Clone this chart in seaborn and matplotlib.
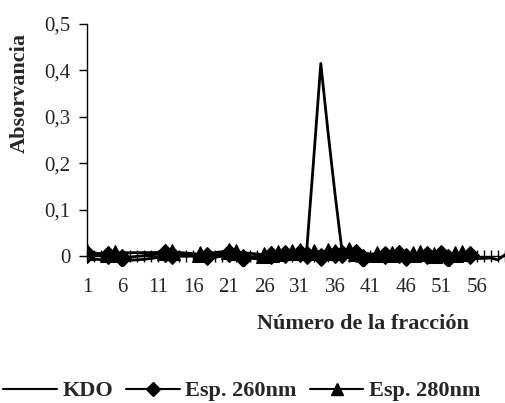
import numpy as np
import pandas as pd
import matplotlib
matplotlib.use("Agg")
import matplotlib.pyplot as plt
import seaborn as sns
from matplotlib.lines import Line2D

# ---------------------------------------------
# DATA
# ---------------------------------------------
fracciones = list(range(1, 61))
kdo = [0.0, -0.006, -0.008, -0.008, -0.009, -0.009, -0.009, -0.008, -0.007, -0.005,
       -0.003, -0.002, -0.001, 0.0, 0.0, 0.0, -0.002, -0.004, -0.003, 0.0,
       0.002, 0.003, 0.002, -0.004, -0.006, -0.003, 0.0, 0.001, 0.0, -0.002,
       0.002, 0.01, 0.21, 0.415, 0.27, 0.135, 0.01, -0.004, -0.003, 0.0,
       0.002, -0.005, -0.006, -0.002, 0.0, 0.001, -0.004, -0.006, -0.003, 0.0,
       0.002, 0.0, -0.002, -0.003, -0.004, -0.005, -0.005, -0.004, -0.008, 0.003]

frac_260 = [1, 4, 6, 12, 13, 18, 21, 23, 27, 29, 31, 32, 34, 36, 37, 39, 40,
            43, 45, 46, 49, 51, 52, 55]
esp_260 = [0.004, 0.002, -0.004, 0.006, 0.003, 0.0, 0.006, -0.003, 0.002, 0.004,
           0.006, 0.003, -0.002, 0.005, 0.004, 0.006, -0.004, 0.002, 0.004, -0.002,
           0.003, 0.004, -0.003, 0.002]

frac_280 = [1, 4, 5, 12, 13, 17, 21, 22, 26, 27, 28, 30, 31, 33, 35, 36, 38,
            39, 42, 44, 45, 47, 48, 50, 51, 53, 54]
esp_280 = [0.008, 0.004, 0.007, 0.008, 0.009, 0.004, 0.011, 0.009, 0.003, 0.005,
           0.007, 0.009, 0.01, 0.009, 0.011, 0.009, 0.013, 0.007, 0.004, 0.005,
           0.006, 0.004, 0.007, 0.003, 0.005, 0.004, 0.006]

xtick_labels = list(range(1, 61, 5))
ytick_vals = [0, 0.1, 0.2, 0.3, 0.4, 0.5]
ytick_labels = ["0", "0,1", "0,2", "0,3", "0,4", "0,5"]

# ---------------------------------------------
# PLOT
# ---------------------------------------------
sns.set_style("white")
plt.rcParams["font.family"] = ["Liberation Serif", "DejaVu Serif"]

fig = plt.figure(figsize=(5.06, 4.03), dpi=100)
ax = fig.add_axes([87 / 506, 1 - 258 / 403 - 0.02, 418 / 506, 234 / 403 + 0.02])

sns.lineplot(x=fracciones, y=kdo, color="black", linewidth=2, ax=ax)
sns.lineplot(x=frac_260, y=esp_260, color="black", linewidth=2, marker="D",
             markersize=9, markeredgecolor="black", ax=ax)
sns.lineplot(x=frac_280, y=esp_280, color="black", linewidth=2, marker="^",
             markersize=12, markeredgecolor="black", ax=ax)

ax.set_xlim(1, 60)
ax.set_ylim(-0.0214, 0.5)
ax.spines["bottom"].set_position(("data", 0))
ax.spines["left"].set_bounds(0, 0.5)
ax.spines["top"].set_visible(False)
ax.spines["right"].set_visible(False)
for s in ["bottom", "left"]:
    ax.spines[s].set_color("black")
    ax.spines[s].set_linewidth(1)

ax.set_xticks(fracciones, minor=True)
ax.set_xticks(xtick_labels)
ax.set_xticklabels([str(v) for v in xtick_labels], fontsize=15)
ax.tick_params(axis="x", which="both", bottom=True, direction="inout", length=8,
               width=1, color="black", pad=12)
ax.set_yticks(ytick_vals)
ax.set_yticklabels(ytick_labels, fontsize=15)
ax.tick_params(axis="y", left=True, direction="out", length=6, width=1,
               color="black", pad=6)
ax.set_xlabel("")
ax.set_ylabel("")

fig.text(20 / 506, 1 - 93 / 403, "Absorvancia", fontsize=16, fontweight="bold",
         rotation=90, ha="center", va="center")
fig.text(363 / 506, 1 - 324 / 403, "Número de la fracción", fontsize=16,
         fontweight="bold", ha="center", va="center")

handles = [
    Line2D([], [], color="black", linewidth=1.5),
    Line2D([], [], color="black", linewidth=1.5, marker="D", markersize=7),
    Line2D([], [], color="black", linewidth=1.5, marker="^", markersize=9),
]
fig.legend(handles, ["KDO", "Esp. 260nm", "Esp. 280nm"], loc="center",
           bbox_to_anchor=(242 / 506, 1 - 391 / 403), ncol=3, frameon=False,
           prop={"weight": "bold", "size": 16}, handlelength=2.4,
           handletextpad=0.25, columnspacing=0.6, borderpad=0, borderaxespad=0)

fig.savefig("out.png", dpi=100)
